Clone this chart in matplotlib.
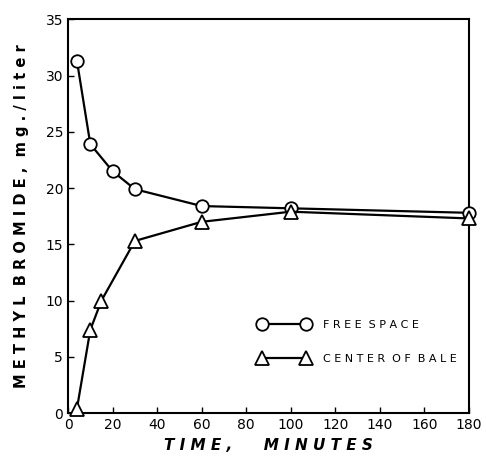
import matplotlib
matplotlib.use("Agg")
import matplotlib.pyplot as plt
from matplotlib.lines import Line2D

time_free = [4, 10, 20, 30, 60, 100, 180]
free_space = [31.3, 23.9, 21.5, 19.9, 18.4, 18.2, 17.8]
time_center = [4, 10, 15, 30, 60, 100, 180]
center_bale = [0.4, 7.4, 10.0, 15.3, 17.0, 17.9, 17.3]
xticks = [0, 20, 40, 60, 80, 100, 120, 140, 160, 180]
yticks = [0, 5, 10, 15, 20, 25, 30, 35]

fig = plt.figure(figsize=(4.86, 4.59), dpi=100)
ax = fig.add_axes([0.140, 0.100, 0.825, 0.858])

ax.plot(time_free, free_space, color="black", lw=1.6, marker="o", ms=9,
        mfc="white", mec="black", mew=1.3, zorder=3, clip_on=False)
ax.plot(time_center, center_bale, color="black", lw=1.6, marker="^", ms=10,
        mfc="white", mec="black", mew=1.3, zorder=3, clip_on=False)

ax.set_xlim(0, 180)
ax.set_ylim(0, 35)
ax.set_xticks(xticks)
ax.set_yticks(yticks)
ax.set_xticklabels([str(t) for t in xticks])
ax.set_yticklabels([str(t) for t in yticks])
ax.tick_params(direction="in", length=4, width=1, labelsize=10)
for s in ax.spines.values():
    s.set_linewidth(1.5)

ax.set_xlabel("T I M E ,      M I N U T E S", fontsize=11, fontweight="bold",
              style="italic", labelpad=4)
ax.set_ylabel("M E T H Y L  B R O M I D E ,  m g . / l i t e r", fontsize=10.5,
              fontweight="bold", labelpad=12)

handles = [
    Line2D([0], [0], color="black", lw=1.6, marker="o", ms=9, mfc="white",
           mec="black", mew=1.3),
    Line2D([0], [0], color="black", lw=1.6, marker="^", ms=10, mfc="white",
           mec="black", mew=1.3),
]
ax.legend(handles, ["F R E E  S P A C E", "C E N T E R  O F  B A L E"],
          loc="lower left", bbox_to_anchor=(0.45, 0.10), frameon=False,
          fontsize=8, handlelength=4.6, labelspacing=2.1, handletextpad=1.2,
          numpoints=2)

fig.savefig("out.png", dpi=100)
